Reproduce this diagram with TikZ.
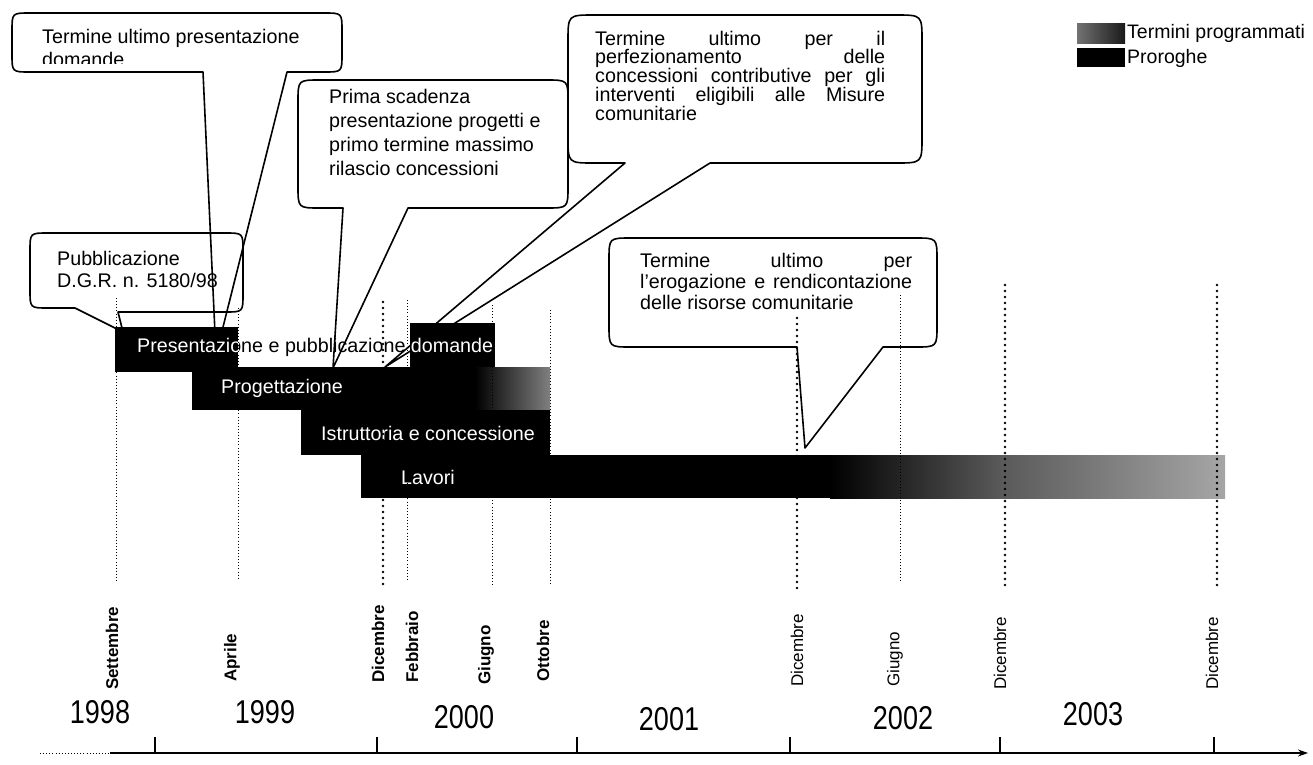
\documentclass[tikz,border=0pt]{standalone}
\usepackage{fontspec}
\setmainfont{Liberation Sans}
\usetikzlibrary{arrows.meta}
\begin{document}
\begin{tikzpicture}[x=1pt,y=-1pt,
  callout/.style={draw=black, line width=1.6pt, line join=round},
  bartext/.style={text=white, inner sep=0pt, font=\fontsize{19.7}{22}\selectfont},
  ctext/.style={anchor=base west, inner sep=0pt, font=\fontsize{19.7}{22}\selectfont},
  thindot/.style={line width=0.9pt, dash pattern=on 0.9pt off 2.2pt},
  thickdot/.style={line width=2.8pt, line cap=round, dash pattern=on 0pt off 6pt},
  month/.style={rotate=90, anchor=west, inner sep=0pt, font=\fontsize{17}{17}\selectfont\bfseries},
  monthr/.style={rotate=90, anchor=west, inner sep=0pt, font=\fontsize{17}{17}\selectfont},
  yearlab/.style={inner sep=0pt, font=\fontsize{33}{33}\selectfont},
  legtext/.style={anchor=west, inner sep=0pt, font=\fontsize{19.5}{20}\selectfont}
]
\useasboundingbox[fill=white] (0,0) rectangle (1313,764);

% ---------- callouts ----------
\draw[callout] (203,72) -- (216,355) -- (287,72) -- (324,72) .. controls (342,72) .. (342,54) -- (342,31) .. controls (342,13) .. (324,13) -- (30,13) .. controls (12,13) .. (12,31) -- (12,54) .. controls (12,72) .. (30,72) -- cycle;
\begin{scope}
\clip (12,13) rectangle (342,63);
\node[ctext] (c1) at (42,43) {\vtop{\baselineskip=23pt\hbox{Termine ultimo presentazione}\hbox{domande}}};
\end{scope}

\draw[callout] (118,312) -- (225,312) .. controls (243,312) .. (243,294) -- (243,251) .. controls (243,233) .. (225,233) -- (48,233) .. controls (30,233) .. (30,251) -- (30,290) .. controls (30,308) .. (48,308) -- (75,308) -- (123,332) -- cycle;
\node[ctext] (c2) at (57,265) {\vtop{\baselineskip=22pt\hbox{Pubblicazione}\hbox{D.G.R. n. 5180/98}}};

\draw[callout] (343,208) -- (333,368) -- (408,208) -- (546,208) .. controls (568,208) .. (568,186) -- (568,102) .. controls (568,80) .. (546,80) -- (320,80) .. controls (298,80) .. (298,102) -- (298,186) .. controls (298,208) .. (320,208) -- cycle;
\node[ctext] (c3) at (329,103) {\vtop{\baselineskip=24pt\hbox{Prima scadenza}\hbox{presentazione progetti e}\hbox{primo termine massimo}\hbox{rilascio concessioni}}};

\draw[callout] (625,163) -- (385,367) -- (710,163) -- (896,163) .. controls (922,163) .. (922,137) -- (922,41) .. controls (922,15) .. (896,15) -- (594,15) .. controls (568,15) .. (568,41) -- (568,137) .. controls (568,163) .. (594,163) -- cycle;
\node[ctext] (c4) at (595,45) {\vtop{\baselineskip=18.8pt
  \hbox{\makebox[290pt][s]{Termine ultimo per il}}
  \hbox{\makebox[290pt][s]{perfezionamento delle}}
  \hbox{\makebox[290pt][s]{concessioni contributive per gli}}
  \hbox{\makebox[290pt][s]{interventi eligibili alle Misure}}
  \hbox{comunitarie}}};

\draw[callout] (797,347) -- (805,448) -- (883,347) -- (915,347) .. controls (937,347) .. (937,325) -- (937,260) .. controls (937,238) .. (915,238) -- (631,238) .. controls (609,238) .. (609,260) -- (609,325) .. controls (609,347) .. (631,347) -- cycle;
\node[ctext] (c5) at (640,267) {\vtop{\baselineskip=21pt
  \hbox{\makebox[272pt][s]{Termine ultimo per}}
  \hbox{\makebox[272pt][s]{l'erogazione e rendicontazione}}
  \hbox{delle risorse comunitarie}}};

% ---------- bars ----------
\fill (115,327) rectangle (238,372);
\fill (410,323) rectangle (495,367);
\fill (192,367) rectangle (476,410);
\shade[left color=black, right color=black!50] (475,367) rectangle (550,410);
\fill (301,410) rectangle (550,455);
\fill (361,455) rectangle (831,498);
\shade[left color=black, right color=black!65] (830,455) rectangle (1001,498);
\shade[left color=black!65, right color=black!35] (1000,455) rectangle (1225,498);

\node[ctext] (pres) at (137,352) {Presentazione e pubblicazione domande};
\begin{scope}
\clip (115,327) rectangle (238,372) (410,323) rectangle (495,367);
\node[ctext, text=white] (presw) at (137,352) {Presentazione e pubblicazione domande};
\end{scope}
\node[bartext] (prog) at (282,388) {Progettazione};
\node[bartext] (istr) at (428,433) {Istruttoria e concessione};
\node[bartext] (lav) at (428,477) {Lavori};

% ---------- month markers ----------
\draw[thindot] (116,298) -- (116,583);
\draw[thindot] (238,308) -- (238,580);
\draw[thickdot] (383,302) -- (383,585);
\draw[thindot] (407,300) -- (407,582);
\draw[thindot] (492,305) -- (492,587);
\draw[thindot] (550,310) -- (550,583);
\draw[thickdot] (797,318) -- (797,593);
\draw[thindot] (900,295) -- (900,583);
\draw[thickdot] (1005,285) -- (1005,590);
\draw[thickdot] (1217,285) -- (1217,590);

\node[month] (m1) at (112,690) {Settembre};
\node[month] (m2) at (232,682) {Aprile};
\node[month] (m3) at (378,683) {Dicembre};
\node[month] (m4) at (412,683) {Febbraio};
\node[month] (m5) at (486,685) {Giugno};
\node[month] (m6) at (543,682) {Ottobre};
\node[monthr] (m7) at (797,687) {Dicembre};
\node[monthr] (m8) at (895,687) {Giugno};
\node[monthr] (m9) at (1000,690) {Dicembre};
\node[monthr] (m10) at (1212,690) {Dicembre};

% ---------- years ----------
\node[yearlab] (y1) at (100,712) {\scalebox{0.82}[1]{1998}};
\node[yearlab] (y2) at (265,712) {\scalebox{0.82}[1]{1999}};
\node[yearlab] (y3) at (464,717) {\scalebox{0.82}[1]{2000}};
\node[yearlab] (y4) at (669,719) {\scalebox{0.82}[1]{2001}};
\node[yearlab] (y5) at (903,718) {\scalebox{0.82}[1]{2002}};
\node[yearlab] (y6) at (1093,714) {\scalebox{0.82}[1]{2003}};

% ---------- axis ----------
\coordinate (ax0) at (40,753);
\coordinate (ax1) at (110,753);
\coordinate (ax2) at (1308,753);
\draw[thindot] (ax0) -- (ax1);
\draw[line width=1.2pt, -{Stealth[length=10pt,width=7pt]}] (ax1) -- (ax2);
\foreach \x in {155,377,577,790,1000,1214} \draw[line width=1.3pt] (\x,737) -- (\x,753);

% ---------- legend ----------
\shade[left color=black!55, right color=black!90] (1077,23) rectangle (1125,43);
\fill (1077,48) rectangle (1125,67);
\node[legtext] (l1) at (1127,33) {Termini programmati};
\node[legtext] (l2) at (1127,58) {Proroghe};
\end{tikzpicture}
\end{document}
